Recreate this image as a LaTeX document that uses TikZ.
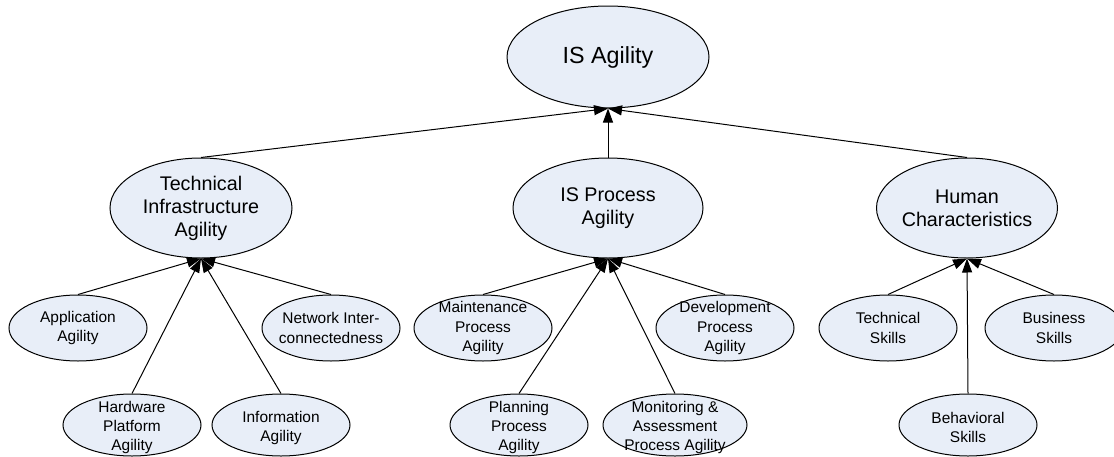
\documentclass[tikz,border=0pt]{standalone}
\usepackage{fontspec}
\setmainfont{Liberation Sans}
\usetikzlibrary{shapes.geometric,arrows.meta}
\definecolor{ellfill}{RGB}{232,238,248}
\tikzset{
  ell/.style={ellipse, draw=black, line width=0.75pt, fill=ellfill, inner sep=0pt},
  topell/.style={ell, minimum width=151.5pt, minimum height=76.5pt,
    label={[align=center, font=\fontsize{17.5}{20}\selectfont]center:#1}},
  midell/.style={ell, minimum height=75pt,
    label={[align=center, font=\fontsize{14.8}{17.3}\selectfont]center:#1}},
  leafell/.style={ell, minimum width=103.5pt, minimum height=49.5pt,
    label={[align=center, font=\fontsize{11.6}{14.4}\selectfont]center:#1}},
  lowell/.style={ell, minimum width=103.5pt, minimum height=46.5pt,
    label={[align=center, font=\fontsize{11.6}{14.4}\selectfont, yshift=-2pt]center:#1}},
  arr/.style={line width=0.75pt, -{Triangle[length=10.5pt,width=7.5pt]}}
}
\begin{document}
\begin{tikzpicture}[x=0.75pt, y=-0.75pt]
\useasboundingbox (0,0) rectangle (1114,457);
% top
\node[topell={IS Agility}] (isa) at (608,57) {};
% second level
\node[midell={Technical\\Infrastructure\\Agility}, minimum width=136.5pt] (tia) at (201,208) {};
\node[midell={IS Process\\Agility}, minimum width=142.5pt] (isp) at (608,208) {};
\node[midell={Human\\Characteristics}, minimum width=135.75pt] (hc) at (967,208) {};
% leaves, upper row
\node[leafell={Application\\Agility}] (app) at (78,328) {};
\node[leafell={Network Inter-\\connectedness}] (net) at (331,328) {};
\node[leafell={Maintenance\\Process\\Agility}] (mnt) at (483,328) {};
\node[leafell={Development\\Process\\Agility}] (dev) at (725,328) {};
\node[leafell={Technical\\Skills}] (tsk) at (888,328) {};
\node[leafell={Business\\Skills}] (bsk) at (1054,328) {};
% leaves, lower row
\node[lowell={Hardware\\Platform\\Agility}] (hw) at (132,425) {};
\node[lowell={Information\\Agility}] (inf) at (281,425) {};
\node[lowell={Planning\\Process\\Agility}] (pln) at (519,425) {};
\node[lowell={Monitoring \&\\Assessment\\Process Agility}, minimum width=108pt] (mon) at (675,425) {};
\node[lowell={Behavioral\\Skills}] (bhs) at (968,425) {};
% connectors
\draw[arr] (tia.north) -- (isa.south);
\draw[arr] (isp.north) -- (isa.south);
\draw[arr] (hc.north) -- (isa.south);
\draw[arr] (app.north) -- (tia.south);
\draw[arr] (hw.north) -- (tia.south);
\draw[arr] (inf.north) -- (tia.south);
\draw[arr] (net.north) -- (tia.south);
\draw[arr] (mnt.north) -- (isp.south);
\draw[arr] (pln.north) -- (isp.south);
\draw[arr] (mon.north) -- (isp.south);
\draw[arr] (dev.north) -- (isp.south);
\draw[arr] (tsk.north) -- (hc.south);
\draw[arr] (bhs.north) -- (hc.south);
\draw[arr] (bsk.north) -- (hc.south);
\end{tikzpicture}
\end{document}
